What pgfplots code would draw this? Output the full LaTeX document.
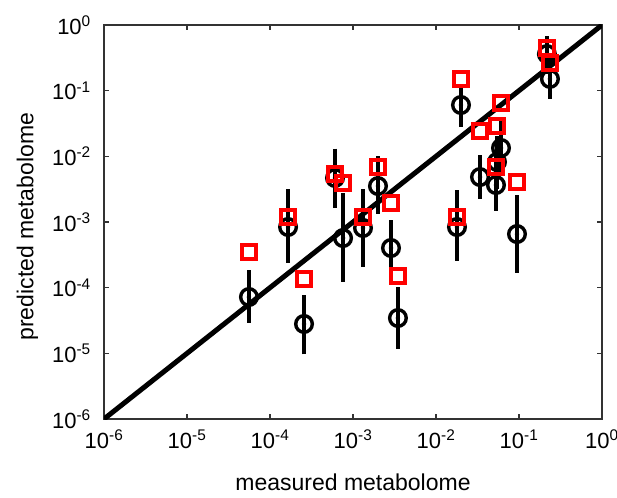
\documentclass[border=0pt]{standalone}
\usepackage{pgfplots}
\pgfplotsset{compat=1.18}
\usepackage{pgfplotstable}
\usepackage{fontspec}
\setmainfont{Liberation Sans}

% x = measured, c = predicted (circles), lo/hi = error range, s = second prediction (squares)
\pgfplotstableread{
x        c        lo       hi       s
5.58e-5  7.21e-5  3.33e-5  1.61e-4  3.49e-4
1.65e-4  8.39e-4  2.74e-4  2.77e-3  1.19e-3
2.57e-4  2.80e-5  1.09e-5  6.73e-5  1.36e-4
6.07e-4  4.68e-3  1.88e-3  1.16e-2  5.38e-3
7.59e-4  5.70e-4  1.40e-4  2.40e-3  3.93e-3
1.32e-3  8.11e-4  2.38e-4  2.77e-3  1.19e-3
2.00e-3  3.53e-3  1.52e-3  8.79e-3  6.89e-3
2.87e-3  4.02e-4  1.92e-4  9.33e-4  1.95e-3
3.48e-3  3.45e-5  1.34e-5  8.89e-5  1.51e-4
1.79e-2  8.39e-4  2.93e-4  2.67e-3  1.19e-3
2.00e-2  6.05e-2  3.22e-2  1.10e-1  1.51e-1
3.39e-2  4.84e-3  2.58e-3  9.12e-3  2.43e-2
5.28e-2  3.66e-3  1.69e-3  8.79e-3  6.89e-3
6.07e-2  1.34e-2  5.78e-3  3.00e-2  6.49e-2
5.43e-2  8.20e-3  3.66e-3  1.77e-2  2.90e-2
9.46e-2  6.56e-4  1.92e-4  2.24e-3  4.06e-3
2.17e-1  3.61e-1  2.07e-1  5.92e-1  4.47e-1
2.36e-1  1.51e-1  8.59e-2  2.74e-1  2.64e-1
}\datatable

\begin{document}
\begin{tikzpicture}
\useasboundingbox (-104pt,-78pt) rectangle (513pt,419pt);
\begin{axis}[
  at={(0pt,0pt)}, anchor=south west,
  scale only axis, width=498pt, height=394pt,
  xmode=log, ymode=log,
  xmin=1e-6, xmax=1, ymin=1e-6, ymax=1,
  xtick={1e-6,1e-5,1e-4,1e-3,1e-2,1e-1,1},
  ytick={1e-6,1e-5,1e-4,1e-3,1e-2,1e-1,1},
  xticklabels={10\textsuperscript{-6},10\textsuperscript{-5},10\textsuperscript{-4},10\textsuperscript{-3},10\textsuperscript{-2},10\textsuperscript{-1},10\textsuperscript{0}},
  yticklabels={10\textsuperscript{-6},10\textsuperscript{-5},10\textsuperscript{-4},10\textsuperscript{-3},10\textsuperscript{-2},10\textsuperscript{-1},10\textsuperscript{0}},
  minor tick style={draw=none},
  tick align=inside, major tick length=5pt,
  axis line style={line width=1.6pt, black!80},
  major tick style={line width=1.2pt, black!80},
  xticklabel style={font=\fontsize{22}{26}\selectfont, anchor=base, inner sep=0pt, yshift=-29pt},
  yticklabel style={font=\fontsize{22}{26}\selectfont, anchor=east, inner sep=0pt, xshift=-13pt},
  xlabel={measured metabolome},
  ylabel={predicted metabolome},
  xlabel style={font=\fontsize{23}{27}\selectfont, at={(axis description cs:0.5,-0.1827)}, anchor=base},
  ylabel style={font=\fontsize{23}{27}\selectfont, at={(axis description cs:-0.1416,0.488)}, anchor=base, rotate=0},
  clip=true,
]
\addplot[black, line width=5pt] coordinates {(1e-6,1e-6) (1,1)};
\addplot[only marks, draw=none, mark=none,
  error bars/.cd, y dir=both, y explicit,
  error bar style={line width=4pt, black},
  error mark=-, error mark options={line width=3.5pt, mark size=3.6pt, black, solid}]
  table[x=x, y=c, y error plus expr=\thisrow{hi}-\thisrow{c}, y error minus expr=\thisrow{c}-\thisrow{lo}] {\datatable};
\addplot[only marks, mark=o, mark size=8.3pt, mark options={line width=3.4pt, draw=black, fill=none}]
  table[x=x, y=c] {\datatable};
\addplot[only marks, mark=square, mark size=6.6pt, mark options={line width=4pt, draw=red, fill=none}]
  table[x=x, y=s] {\datatable};
\end{axis}
\end{tikzpicture}
\end{document}
